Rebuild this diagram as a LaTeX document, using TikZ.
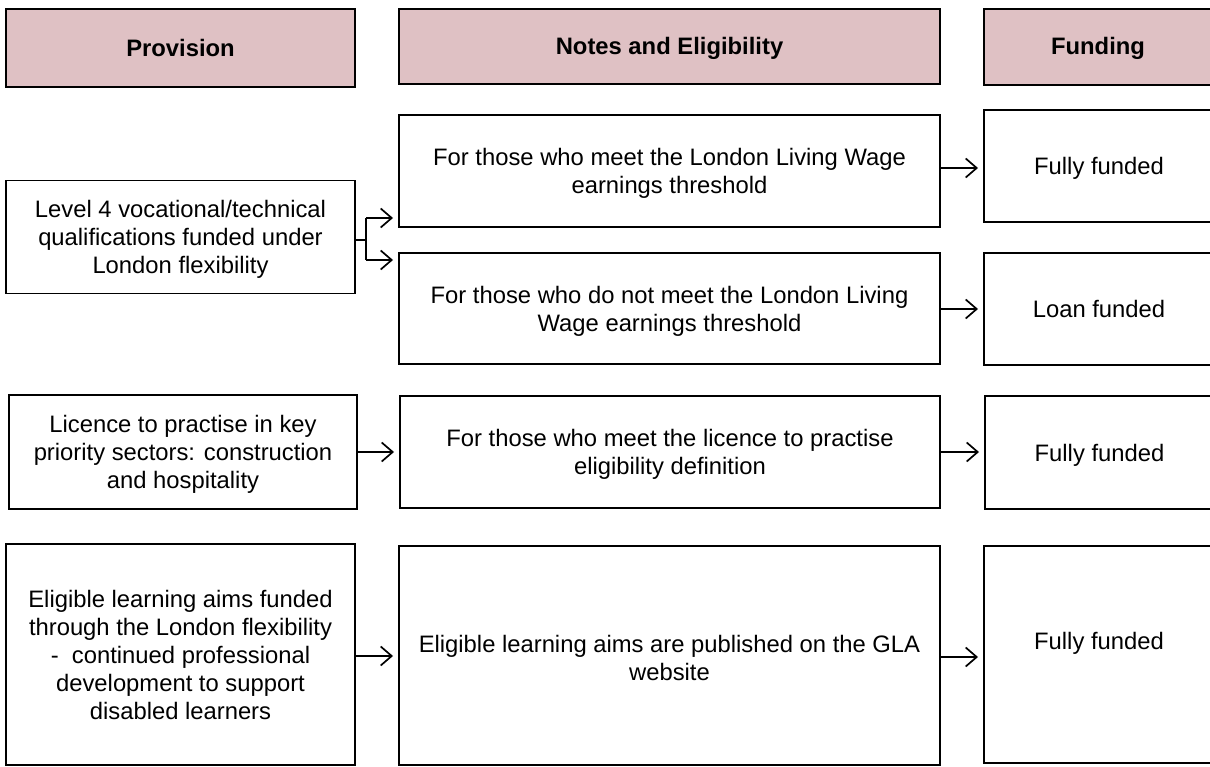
\documentclass[tikz,border=0pt]{standalone}
\usepackage{fontspec}
\setmainfont{Liberation Sans}
\usetikzlibrary{arrows.meta}
\definecolor{headpink}{RGB}{223,193,196}
\begin{document}
\begin{tikzpicture}[x=1pt,y=-1pt,
  box/.style={draw=black, line width=1.7pt, fill=white, rectangle, inner sep=0pt, outer sep=0pt,
    align=center, text depth=-1pt, font=\fontsize{23.8}{28}\selectfont},
  headbox/.style={box, fill=headpink, text depth=2pt, font=\fontsize{23.8}{28}\selectfont\bfseries},
  boxlabel/.style={font=\fontsize{23.8}{28}\selectfont, align=center},
  arr/.style={line width=1.7pt, -{Straight Barb[length=11pt,width=19pt,line width=1.7pt]}, shorten >=6pt},
  link/.style={line width=1.7pt}]
\useasboundingbox (0,0) rectangle (1210,767);
\clip (0,0) rectangle (1210,767);

% column headers
\node[headbox, minimum width=349, minimum height=78, text depth=0pt] (hprov) at (180.5,48) {Provision};
\node[headbox, minimum width=541, minimum height=75] (hnotes) at (669.5,46.5) {Notes and Eligibility};
\node[headbox, minimum width=230, minimum height=76] (hfund) at (1099,47) {\hspace*{-2pt}Funding};

% row 1: Level 4 qualifications
\node[box, minimum width=349, minimum height=113] (l1) at (180.5,237)
  {Level 4 vocational/technical\\qualifications funded under\\London flexibility};
\node[box, minimum width=541, minimum height=112] (n1) at (669.5,171)
  {For those who meet the London Living Wage\\earnings threshold};
\node[box, minimum width=541, minimum height=111] (n2) at (669.5,308.5)
  {For those who do not meet the London Living\\Wage earnings threshold};
\node[box, minimum width=230, minimum height=112] (f1) at (1099,166) {Fully funded};
\node[box, minimum width=230, minimum height=112] (f2) at (1099,309) {Loan funded};

% row 2: licence to practise
\node[box, minimum width=348, minimum height=114] (l2) at (183,452)
  {Licence to practise in key\\priority sectors: construction\\and hospitality};
\node[box, minimum width=540, minimum height=112] (n3) at (670,452)
  {For those who meet the licence to practise\\eligibility definition};
\node[box, minimum width=229, minimum height=113] (f3) at (1099.5,452.5) {Fully funded};

% row 3: learning aims for disabled learners
\node[box, minimum width=349, minimum height=221, text depth=0pt] (l3) at (180.5,654.5)
  {Eligible learning aims funded\\through the London flexibility\\-\ \ continued professional\\development to support\\disabled learners};
\node[box, minimum width=541, minimum height=219,
  label={[boxlabel, yshift=-2.5pt]center:Eligible learning aims are published on the GLA\\website}] (n4) at (669.5,655.5) {};
\node[box, minimum width=230, minimum height=217,
  label={[boxlabel, yshift=11.5pt]center:Fully funded}] (f4) at (1099,654.5) {};

% branching connector from the Level 4 box
\coordinate (br) at (366,240);
\draw[link] (l1.east |- br) -- (br);
\draw[link] (br |- 0,218) -- (br |- 0,260);
\draw[arr] (br |- 0,218) -- (n1.west |- 0,218);
\draw[arr] (br |- 0,260) -- (n2.west |- 0,260);

% remaining connectors
\draw[arr] (n1.east |- 0,168) -- (f1.west |- 0,168);
\draw[arr] (n2.east |- 0,309) -- (f2.west |- 0,309);
\draw[arr] (l2.east |- 0,452) -- (n3.west |- 0,452);
\draw[arr] (n3.east |- 0,452) -- (f3.west |- 0,452);
\draw[arr] (l3.east |- 0,656) -- (n4.west |- 0,656);
\draw[arr] (n4.east |- 0,657) -- (f4.west |- 0,657);
\end{tikzpicture}
\end{document}
